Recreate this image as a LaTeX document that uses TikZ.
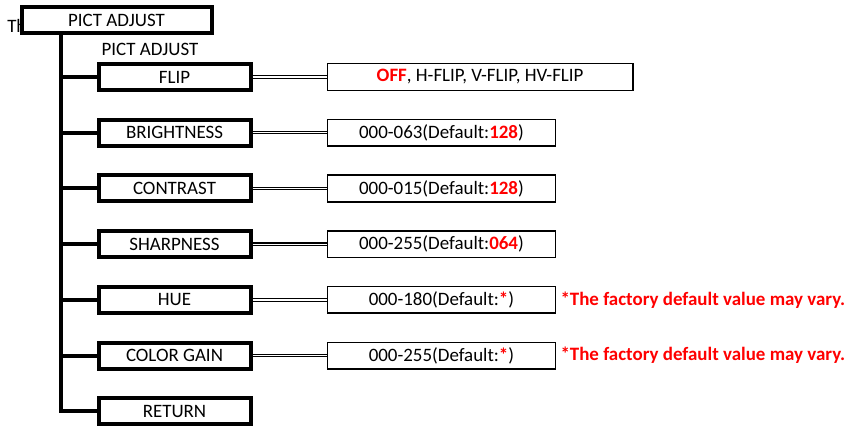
\documentclass[tikz,border=0pt]{standalone}
\usepackage{fontspec}
\setmainfont{Carlito}
\usetikzlibrary{positioning}
\definecolor{notered}{RGB}{255,0,0}
\newcommand{\redval}[1]{\textcolor{notered}{\textbf{#1}}}

\begin{document}
\begin{tikzpicture}[x=0.75pt,y=-0.75pt,node distance=19.3pt and 55.6pt,font=\fontsize{14.2}{17}\selectfont]
  \tikzstyle{menubox}=[draw,line width=3pt,fill=white,minimum width=114pt,minimum height=19.5pt,inner sep=0pt]
  \tikzstyle{valbox}=[draw,line width=1.2pt,minimum width=171pt,minimum height=20pt,inner sep=0pt]
  \tikzstyle{link}=[double,line width=0.8pt,double distance=1pt]
  \tikzstyle{note}=[text=notered,font=\fontsize{14.2}{17}\selectfont\bfseries,inner sep=0pt]
  \useasboundingbox (0,0) rectangle (852,427);
  \coordinate (trunk) at (61,0);
  \node[anchor=base west,inner sep=0pt] (cut) at (7,33) {Th};
  \node[menubox,minimum width=142.5pt,minimum height=20pt] (top) at (116.5,20) {PICT ADJUST};
  \node (sub) at (150,49) {PICT ADJUST};
  \node[menubox] (flip) at (174.5,77) {FLIP};
  \node[menubox,below=of flip] (bright) {BRIGHTNESS};
  \node[menubox,below=of bright] (contr) {CONTRAST};
  \node[menubox,below=of contr] (sharp) {SHARPNESS};
  \node[menubox,below=of sharp] (hue) {HUE};
  \node[menubox,below=of hue] (gain) {COLOR GAIN};
  \node[menubox,below=of gain] (ret) {RETURN};
  \node[valbox,minimum width=229pt,right=of flip] (flipval) {\redval{OFF}, H-FLIP, V-FLIP, HV-FLIP};
  \node[valbox,right=of bright] (brightval) {000-063(Default:\redval{128})};
  \node[valbox,right=of contr] (contrval) {000-015(Default:\redval{128})};
  \node[valbox,right=of sharp] (sharpval) {000-255(Default:\redval{064})};
  \node[valbox,right=of hue] (hueval) {000-180(Default:\redval{*})};
  \node[valbox,right=of gain] (gainval) {000-255(Default:\redval{*})};
  \node[note,right=3pt of hueval] (huenote) {*The factory default value may vary.};
  \node[note,right=3pt of gainval] (gainnote) {*The factory default value may vary.};
  % tree lines
  \draw[line width=3pt] (top.south -| trunk) |- (ret.west);
  \draw[line width=3pt] (flip.west -| trunk) -- (flip.west);
  \draw[line width=3pt] (bright.west -| trunk) -- (bright.west);
  \draw[line width=3pt] (contr.west -| trunk) -- (contr.west);
  \draw[line width=3pt] (sharp.west -| trunk) -- (sharp.west);
  \draw[line width=3pt] (hue.west -| trunk) -- (hue.west);
  \draw[line width=3pt] (gain.west -| trunk) -- (gain.west);
  \draw[link] (flip) -- (flipval);
  \draw[link] (bright) -- (brightval);
  \draw[link] (contr) -- (contrval);
  \draw[link] (sharp) -- (sharpval);
  \draw[link] (hue) -- (hueval);
  \draw[link] (gain) -- (gainval);
\end{tikzpicture}
\end{document}
